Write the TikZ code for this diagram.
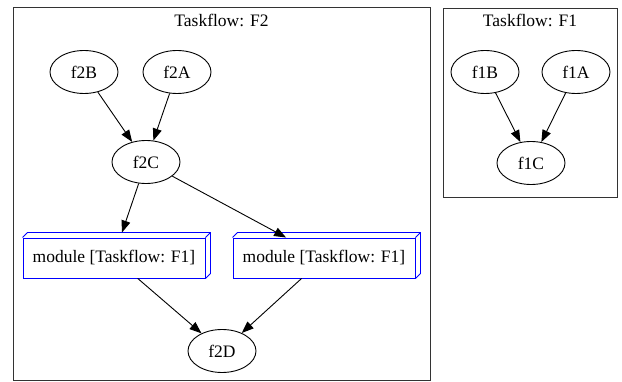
\documentclass[tikz,border=0pt]{standalone}
\usepackage{fontspec}
\setmainfont{Liberation Serif}
\usetikzlibrary{shapes.geometric,arrows.meta,calc}
\tikzset{
  cluster/.style={draw=black!80, line width=0.9pt},
  ctitle/.style={font=\fontsize{17.5}{20}\selectfont, inner sep=0pt},
  task/.style={ellipse, draw, line width=0.9pt, minimum width=68pt, minimum height=43pt, inner sep=0pt, font=\fontsize{17.5}{20}\selectfont},
  modbox/.style={rectangle, draw=blue, line width=0.9pt, minimum width=182pt, minimum height=40pt, inner sep=0pt, font=\fontsize{17.5}{20}\selectfont},
  modside/.style={draw=blue, line width=0.9pt},
  edge/.style={draw, line width=0.9pt, -{Triangle[length=12pt,width=9pt]}, shorten >=0pt}
}
\begin{document}
\begin{tikzpicture}[x=1pt,y=-1pt]
\useasboundingbox (0,0) rectangle (622,382);
% clusters
\node[cluster, rectangle, minimum width=417pt, minimum height=373pt, inner sep=0pt] (cF2) at (221.5,193.5) {};
\node[ctitle] (tF2) at (221.5,20) {Taskflow: F2};
\node[cluster, rectangle, minimum width=174pt, minimum height=189pt, inner sep=0pt] (cF1) at (530,102.5) {};
\node[ctitle] (tF1) at (530,20) {Taskflow: F1};
% F2 nodes
\node[task] (f2B) at (84,72) {f2B};
\node[task] (f2A) at (177,72) {f2A};
\node[task] (f2C) at (146,162) {f2C};
\node[modbox] (m1) at (114,258) {module [Taskflow: F1]};
\node[modbox] (m2) at (324,258) {module [Taskflow: F1]};
\node[task] (f2D) at (222,351) {f2D};
% 3d sides
\foreach \m in {m1,m2}{
  \draw[modside] (\m.north west) -- ++(5,-5) -- ($(\m.north east)+(5,-5)$) -- ($(\m.south east)+(5,-5)$) -- (\m.south east);
  \draw[modside] (\m.north east) -- ++(5,-5);
}
% F1 nodes
\node[task] (f1B) at (485,72) {f1B};
\node[task] (f1A) at (576,72) {f1A};
\node[task] (f1C) at (531,163) {f1C};
% edges
\draw[edge] (f2B) -- (f2C);
\draw[edge] (f2A) -- (f2C);
\draw[edge] (f2C) -- ($(m1.north)+(8,-5)$) coordinate (m1in);
\draw[edge] (f2C) -- (m2);
\draw[edge] (m1) -- (f2D);
\draw[edge] (m2) -- (f2D);
\draw[edge] (f1B) -- (f1C);
\draw[edge] (f1A) -- (f1C);
\end{tikzpicture}
\end{document}
